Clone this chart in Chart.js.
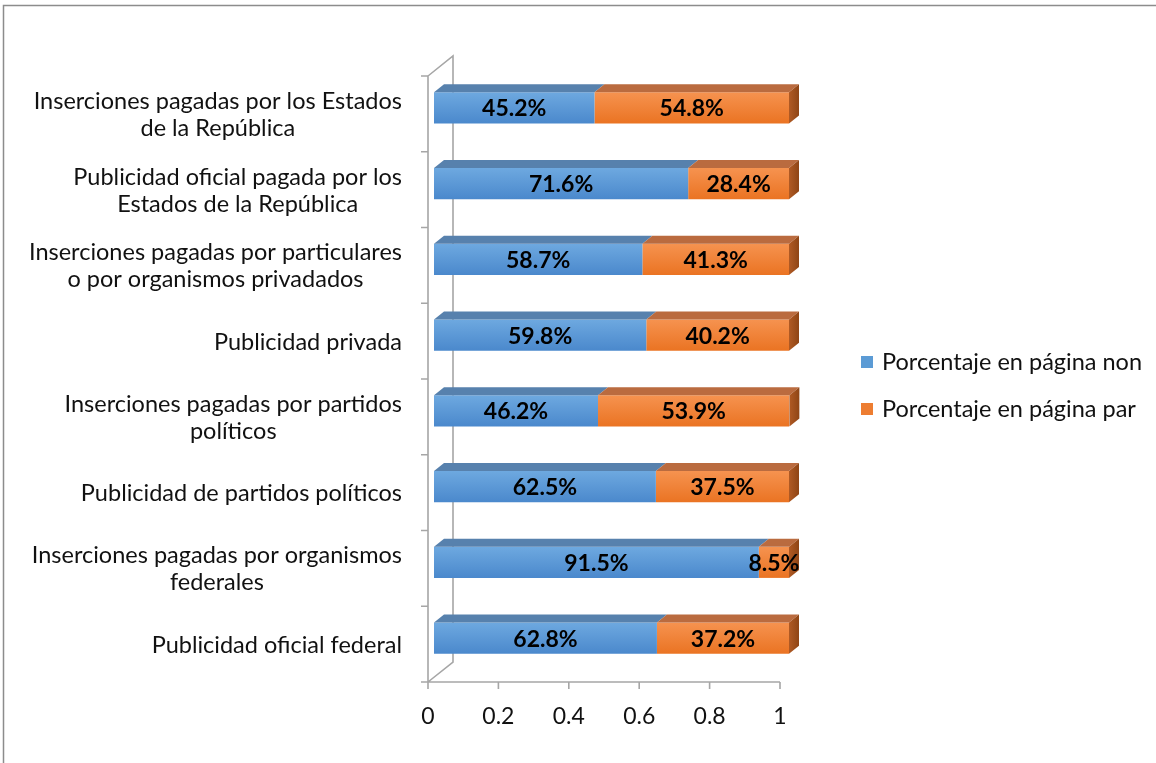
<!DOCTYPE html>
<html>
<head>
<meta charset="utf-8">
<script src="https://cdn.jsdelivr.net/npm/chart.js@4.4.1/dist/chart.umd.min.js"></script>
<style>
  html, body { margin: 0; padding: 0; background: #ffffff; }
  #wrap { position: relative; width: 1156px; height: 763px; }
</style>
</head>
<body>
<div id="wrap"><canvas id="c" width="1156" height="763"></canvas></div>
<script>
// ---- data ----
const categories = [
  ["Inserciones pagadas por los Estados", "de la República"],
  ["Publicidad oficial pagada por los", "Estados de la República"],
  ["Inserciones pagadas por particulares", "o por organismos privadados"],
  ["Publicidad privada"],
  ["Inserciones pagadas por partidos", "políticos"],
  ["Publicidad de partidos políticos"],
  ["Inserciones pagadas por organismos", "federales"],
  ["Publicidad oficial federal"]
];
const seriesNames = ["Porcentaje en página non", "Porcentaje en página par"];
const nonValues = [0.452, 0.716, 0.587, 0.598, 0.462, 0.625, 0.915, 0.628];
const parValues = [0.548, 0.284, 0.413, 0.402, 0.539, 0.375, 0.085, 0.372];
const nonLabels = ["45.2%", "71.6%", "58.7%", "59.8%", "46.2%", "62.5%", "91.5%", "62.8%"];
const parLabels = ["54.8%", "28.4%", "41.3%", "40.2%", "53.9%", "37.5%", "8.5%", "37.2%"];
const xTicks = [0, 0.2, 0.4, 0.6, 0.8, 1];
const xTickLabels = ["0", "0.2", "0.4", "0.6", "0.8", "1"];

// ---- styles ----
const DX = 10, DY = 8;           // bar depth
const WALL_DX = 25, WALL_DY = 20; // wall depth
const AXIS_SHIFT = -6;            // front axis plane vs bar faces
const FONT = "Lato, 'Open Sans', sans-serif";
const styles = [
  { top: '#6ea9e0', bottom: '#4a88cc', lid: '#5781ad', side: '#3f6d9e', solid: '#5b9bd5' },
  { top: '#f69350', bottom: '#ea7322', lid: '#ba6b3f', side: '#a3521f', solid: '#ed7d31' }
];

function frontGradient(s) {
  return function (ctx) {
    const chart = ctx.chart;
    const yScale = chart.scales && chart.scales.y;
    if (!chart.chartArea || !yScale || ctx.dataIndex === undefined) return s.solid;
    const yc = yScale.getPixelForValue(ctx.dataIndex);
    const h = 16;
    const g = chart.ctx.createLinearGradient(0, yc - h, 0, yc + h);
    g.addColorStop(0, s.top);
    g.addColorStop(1, s.bottom);
    return g;
  };
}

const decor = {
  id: 'decor',
  beforeDatasetsDraw(chart) {
    const ctx = chart.ctx;
    const xs = chart.scales.x, ys = chart.scales.y;
    const ca = chart.chartArea;
    ctx.save();
    // outer border
    ctx.strokeStyle = '#8c8c8c';
    ctx.lineWidth = 1.5;
    ctx.strokeRect(3.5, 5.5, 1300, 900);

    // front axis plane: left wall and floor
    const fx0 = xs.getPixelForValue(0) + AXIS_SHIFT;
    const fx1 = xs.getPixelForValue(1) + AXIS_SHIFT - 3;
    const fTop = ca.top + 6;
    const fBot = ca.bottom + 6;
    ctx.strokeStyle = '#a6a6a6';
    ctx.lineWidth = 1.6;
    ctx.beginPath();
    ctx.moveTo(fx0, fTop); ctx.lineTo(fx0, fBot);            // front left edge
    ctx.moveTo(fx0, fTop); ctx.lineTo(fx0 + WALL_DX, fTop - WALL_DY);
    ctx.lineTo(fx0 + WALL_DX, fBot - WALL_DY);               // back wall edge
    ctx.lineTo(fx0, fBot);                                   // floor diagonal
    ctx.moveTo(fx0, fBot); ctx.lineTo(fx1, fBot);            // x axis line
    ctx.stroke();

    // y tick marks at category boundaries
    const n = categories.length;
    ctx.beginPath();
    for (let k = 0; k <= n; k++) {
      const y = fTop + (fBot - fTop) * k / n;
      ctx.moveTo(fx0 - 7, y); ctx.lineTo(fx0, y);
    }
    // x tick marks
    xTicks.forEach(v => {
      const x = fx0 + (fx1 - fx0) * v;
      ctx.moveTo(x, fBot); ctx.lineTo(x, fBot + 7);
    });
    ctx.stroke();

    // x tick labels
    ctx.fillStyle = '#111111';
    ctx.font = '23px ' + FONT;
    ctx.textAlign = 'center';
    ctx.textBaseline = 'middle';
    xTicks.forEach((v, i) => {
      const x = fx0 + (fx1 - fx0) * v;
      ctx.fillText(xTickLabels[i], x, fBot + 35);
    });

    // y category labels: block right-aligned, lines centered
    ctx.font = '23.5px ' + FONT;
    const rightEdge = fx0 - 26;
    const lh = 27;
    categories.forEach((lines, i) => {
      const yc = ys.getPixelForValue(i) + 7;
      const w = Math.max(...lines.map(t => ctx.measureText(t).width));
      const cx = rightEdge - w / 2;
      const y0 = yc - (lines.length - 1) * lh / 2;
      lines.forEach((t, j) => ctx.fillText(t, cx, y0 + j * lh));
    });

    // legend
    const lgX = 861, lgY = [362, 409];
    seriesNames.forEach((name, i) => {
      ctx.fillStyle = styles[i].solid;
      ctx.fillRect(lgX, lgY[i] - 6, 12, 12);
      ctx.fillStyle = '#111111';
      ctx.textAlign = 'left';
      ctx.fillText(name, lgX + 21, lgY[i]);
    });
    ctx.restore();
  },
  afterDatasetsDraw(chart) {
    const ctx = chart.ctx;
    const m0 = chart.getDatasetMeta(0), m1 = chart.getDatasetMeta(1);
    ctx.save();
    for (let i = 0; i < categories.length; i++) {
      const segs = [m0.data[i], m1.data[i]];
      segs.forEach((b, s) => {
        const p = b.getProps(['x', 'y', 'base', 'height'], true);
        const top = p.y - p.height / 2;
        const x0 = Math.min(p.base, p.x), x1 = Math.max(p.base, p.x);
        ctx.fillStyle = styles[s].lid;
        ctx.beginPath();
        ctx.moveTo(x0, top); ctx.lineTo(x0 + DX, top - DY);
        ctx.lineTo(x1 + DX, top - DY); ctx.lineTo(x1, top);
        ctx.closePath(); ctx.fill();
      });
      // right side face
      const last = segs[1].getProps(['x', 'y', 'height'], true);
      const t = last.y - last.height / 2, bt = last.y + last.height / 2;
      const g = ctx.createLinearGradient(last.x, 0, last.x + DX, 0);
      g.addColorStop(0, '#b05a24'); g.addColorStop(1, '#8f4515');
      ctx.fillStyle = g;
      ctx.beginPath();
      ctx.moveTo(last.x, t); ctx.lineTo(last.x + DX, t - DY);
      ctx.lineTo(last.x + DX, bt - DY); ctx.lineTo(last.x, bt);
      ctx.closePath(); ctx.fill();

      // value labels
      ctx.fillStyle = '#000000';
      ctx.font = 'bold 23px ' + FONT;
      ctx.textAlign = 'center';
      ctx.textBaseline = 'middle';
      const lbls = [nonLabels[i], parLabels[i]];
      segs.forEach((b, s) => {
        const p = b.getProps(['x', 'y', 'base'], true);
        ctx.fillText(lbls[s], (p.x + p.base) / 2, p.y + 1);
      });
    }
    ctx.restore();
  }
};

new Chart(document.getElementById('c'), {
  type: 'bar',
  data: {
    labels: categories,
    datasets: [
      { label: seriesNames[0], data: nonValues, backgroundColor: frontGradient(styles[0]), borderWidth: 0 },
      { label: seriesNames[1], data: parValues, backgroundColor: frontGradient(styles[1]), borderWidth: 0 }
    ]
  },
  options: {
    indexAxis: 'y',
    responsive: false,
    animation: false,
    devicePixelRatio: 1,
    barPercentage: 0.41,
    categoryPercentage: 1,
    layout: { padding: { left: 434, right: 367, top: 70, bottom: 87 } },
    plugins: { legend: { display: false }, tooltip: { enabled: false } },
    scales: {
      x: { stacked: true, min: 0, max: 1, display: false },
      y: { stacked: true, display: false }
    }
  },
  plugins: [decor]
});
</script>
</body>
</html>
